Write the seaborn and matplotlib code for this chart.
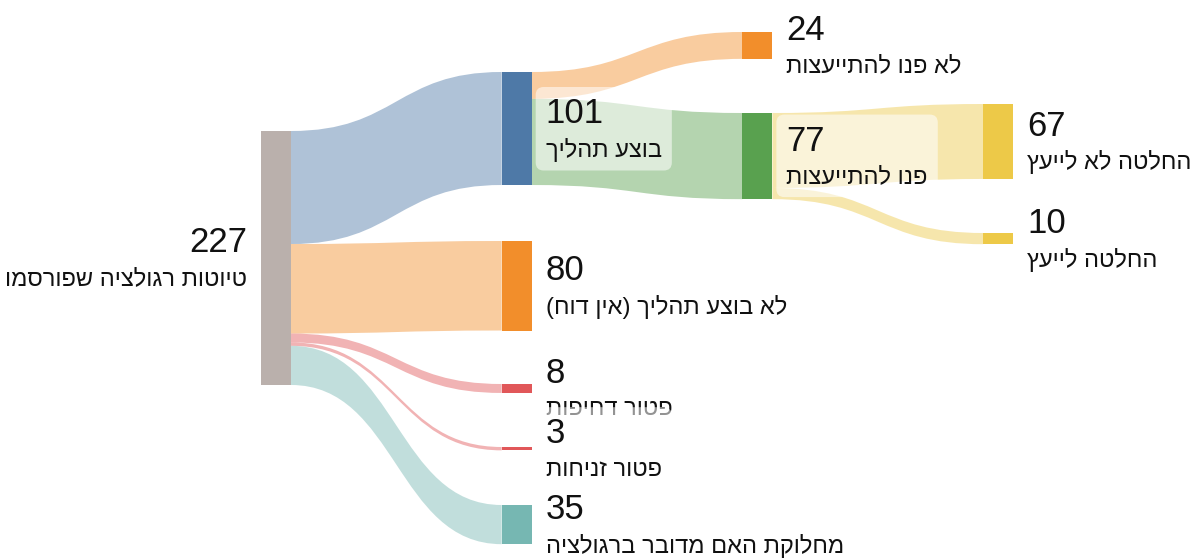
import matplotlib.pyplot as plt
import seaborn as sns
from matplotlib.path import Path
from matplotlib.patches import PathPatch, Rectangle, FancyBboxPatch

# Style
sns.set_style("white")
plt.rcParams['font.family'] = ['Liberation Sans', 'DejaVu Sans']

# Data: nodes and links of the flow
node_labels = [
    "טיוטות רגולציה שפורסמו",
    "בוצע תהליך",
    "לא בוצע תהליך (אין דוח)",
    "פטור דחיפות",
    "פטור זניחות",
    "מחלוקת האם מדובר ברגולציה",
    "לא פנו להתייעצות",
    "פנו להתייעצות",
    "החלטה לא לייעץ",
    "החלטה לייעץ",
]
node_values = [227, 101, 80, 8, 3, 35, 24, 77, 67, 10]
link_source = [0, 0, 0, 0, 0, 1, 1, 7, 7]
link_target = [1, 2, 3, 4, 5, 6, 7, 8, 9]
link_value = [101, 80, 8, 3, 35, 24, 77, 67, 10]

# Colours (tableau-like)
node_colors = ["#bab0ac", "#4e79a7", "#f28e2b", "#e15759", "#e15759",
               "#76b7b2", "#f28e2b", "#59a14f", "#edc948", "#edc948"]

# Layout (pixels): column of each node and top of each node
node_layer = [0, 1, 1, 1, 1, 1, 2, 2, 3, 3]
node_top = [131, 72, 241, 384, 447, 505, 32, 113, 104, 233]
col_x0, col_step, node_w = 261, 240.7, 30
scale = 254 / 227  # px per unit of flow

W, H = 1199, 558
fig = plt.figure(figsize=(W / 100, H / 100), dpi=100)
ax = fig.add_axes([0, 0, 1, 1])
ax.set_xlim(0, W)
ax.set_ylim(H, 0)
ax.axis('off')

nx = [col_x0 + col_step * l for l in node_layer]
nh = [v * scale for v in node_values]

# Links
out_off = [0.0] * len(node_values)
in_off = [0.0] * len(node_values)
for s, t, v in zip(link_source, link_target, link_value):
    h = v * scale
    ys0 = node_top[s] + out_off[s]
    yt0 = node_top[t] + in_off[t]
    out_off[s] += h
    in_off[t] += h
    xs = nx[s] + node_w
    xt = nx[t]
    xm = (xs + xt) / 2
    verts = [(xs, ys0), (xm, ys0), (xm, yt0), (xt, yt0),
             (xt, yt0 + h),
             (xm, yt0 + h), (xm, ys0 + h), (xs, ys0 + h),
             (xs, ys0)]
    codes = [Path.MOVETO, Path.CURVE4, Path.CURVE4, Path.CURVE4,
             Path.LINETO,
             Path.CURVE4, Path.CURVE4, Path.CURVE4,
             Path.CLOSEPOLY]
    ax.add_patch(PathPatch(Path(verts, codes), facecolor=node_colors[t],
                           edgecolor='none', alpha=0.45, zorder=1))

# Nodes
for i in range(len(node_values)):
    ax.add_patch(Rectangle((nx[i], node_top[i]), node_w, nh[i],
                           facecolor=node_colors[i], edgecolor='none', zorder=2))


def rtl(s):
    # matplotlib has no bidi support: reverse to visual order, mirror brackets
    swap = {'(': ')', ')': '('}
    return ''.join(swap.get(c, c) for c in reversed(s))


# Labels with translucent rounded boxes
fig.canvas.draw()
renderer = fig.canvas.get_renderer()
inv = ax.transData.inverted()
for i in range(len(node_values)):
    cy = node_top[i] + nh[i] / 2
    if i == 0:
        tx, ha = nx[i] - 14, 'right'
    else:
        tx, ha = nx[i] + node_w + 14, 'left'
    z = 10 + 2 * i
    t1 = ax.text(tx, cy - 15, str(node_values[i]), ha=ha, va='center',
                 fontsize=25, color='#111111', zorder=z + 1)
    t2 = ax.text(tx, cy + 21, rtl(node_labels[i]), ha=ha, va='center',
                 fontsize=17, color='#111111', zorder=z + 1)
    b1 = t1.get_window_extent(renderer)
    b2 = t2.get_window_extent(renderer)
    (x0, y0) = inv.transform((min(b1.x0, b2.x0) - 10, max(b1.y1, b2.y1) + 10))
    (x1, y1) = inv.transform((max(b1.x1, b2.x1) + 10, min(b1.y0, b2.y0) - 9))
    ax.add_patch(FancyBboxPatch((x0, y0), x1 - x0, y1 - y0,
                                boxstyle="round,pad=0,rounding_size=8",
                                facecolor='white', edgecolor='none',
                                alpha=0.55, zorder=z))

fig.savefig('out.png', dpi=100)
